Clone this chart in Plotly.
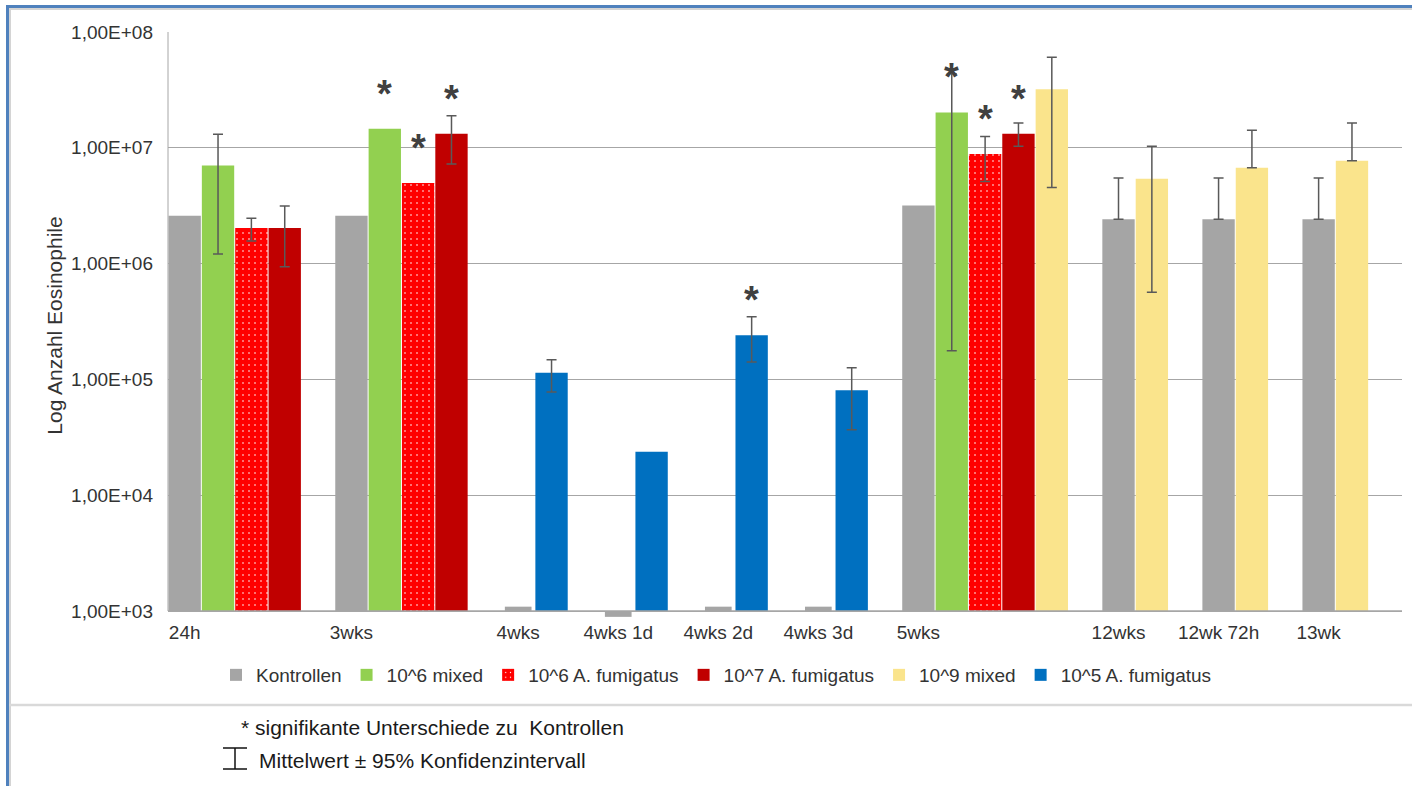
import math
import plotly.graph_objects as go

# ---------------------------------------------------------------------------
# Data: mean eosinophil counts per time point and group, with the limits of
# the 95 % confidence interval (None = group not measured / no interval)
# ---------------------------------------------------------------------------
groups = ["24h", "3wks", "4wks", "4wks 1d", "4wks 2d", "4wks 3d",
          "5wks", "12wks", "12wk 72h", "13wk"]

series_names = ["Kontrollen", "10^6 mixed", "10^6 A. fumigatus",
                "10^7 A. fumigatus", "10^9 mixed", "10^5 A. fumigatus"]

kontrollen = [2.59e6, 2.59e6, 1.09e3, 8.9e2, 1.09e3, 1.09e3, 3.18e6, 2.42e6, 2.42e6, 2.42e6]
kontrollen_hi = [None, None, None, None, None, None, None, 5.48e6, 5.48e6, 5.48e6]
kontrollen_lo = [None, None, None, None, None, None, None, 2.42e6, 2.42e6, 2.42e6]

mixed_6 = [7.03e6, 1.46e7, None, None, None, None, 2.02e7, None, None, None]
mixed_6_hi = [1.31e7, None, None, None, None, None, 4.37e7, None, None, None]
mixed_6_lo = [1.21e6, None, None, None, None, None, 1.77e5, None, None, None]

fumigatus_6 = [2.03e6, 4.96e6, None, None, None, None, 8.83e6, None, None, None]
fumigatus_6_hi = [2.47e6, None, None, None, None, None, 1.25e7, None, None, None]
fumigatus_6_lo = [1.57e6, None, None, None, None, None, 5.12e6, None, None, None]

fumigatus_7 = [2.03e6, 1.32e7, None, None, None, None, 1.32e7, None, None, None]
fumigatus_7_hi = [3.15e6, 1.89e7, None, None, None, None, 1.64e7, None, None, None]
fumigatus_7_lo = [9.4e5, 7.23e6, None, None, None, None, 1.03e7, None, None, None]

mixed_9 = [None, None, None, None, None, None, 3.21e7, 5.41e6, 6.73e6, 7.73e6]
mixed_9_hi = [None, None, None, None, None, None, 6.04e7, 1.03e7, 1.42e7, 1.64e7]
mixed_9_lo = [None, None, None, None, None, None, 4.54e6, 5.67e5, 6.73e6, 7.73e6]

fumigatus_5 = [None, None, 1.14e5, 2.37e4, 2.41e5, 8.07e4, None, None, None, None]
fumigatus_5_hi = [None, None, 1.48e5, None, 3.47e5, 1.26e5, None, None, None, None]
fumigatus_5_lo = [None, None, 7.8e4, None, 1.41e5, 3.68e4, None, None, None, None]

# time points with a significant difference to the controls
significant_mixed_6 = ["3wks", "5wks"]
significant_fumigatus_6 = ["3wks", "5wks"]
significant_fumigatus_7 = ["3wks", "5wks"]
significant_fumigatus_5 = ["4wks 2d"]

y_tick_values = [1e3, 1e4, 1e5, 1e6, 1e7, 1e8]
y_tick_labels = ["1,00E+03", "1,00E+04", "1,00E+05", "1,00E+06", "1,00E+07", "1,00E+08"]

# ---------------------------------------------------------------------------
# Styling
# ---------------------------------------------------------------------------
colors = ["#A5A5A5", "#92D050", "#FF0000", "#C00000", "#FAE48C", "#0070C0"]
FONT = "Liberation Sans, Arial, sans-serif"
TEXT = "#333333"
GRID = "#A6A6A6"
ERR = "#595959"
BASE = 1e3  # bars grow from the 1,00E+03 baseline (values below it hang down)

W, H = 1412, 786
L, R, T = 168, 10, 32
BASELINE_PX = 611                 # pixel row of the 1,00E+03 baseline
DECADE_PX = (BASELINE_PX - T) / 5  # height of one decade
BELOW_PX = 8                      # room under the baseline for values < 1e3
B = H - BASELINE_PX - BELOW_PX
PW, PH = W - L - R, H - T - B
y_bottom = math.log10(BASE) - BELOW_PX / DECADE_PX


def px_x(px):
    return (px - L) / PW


def px_y(py):
    return (H - B - py) / PH


series_values = [kontrollen, mixed_6, fumigatus_6, fumigatus_7, mixed_9, fumigatus_5]
series_hi = [kontrollen_hi, mixed_6_hi, fumigatus_6_hi, fumigatus_7_hi, mixed_9_hi, fumigatus_5_hi]
series_lo = [kontrollen_lo, mixed_6_lo, fumigatus_6_lo, fumigatus_7_lo, mixed_9_lo, fumigatus_5_lo]
series_sig = [[], significant_mixed_6, significant_fumigatus_6,
              significant_fumigatus_7, [], significant_fumigatus_5]

# Each measured bar gets its own slot; an empty slot separates time points.
positions = [[None] * len(groups) for _ in series_values]
group_start = []
slot = 0
for g in range(len(groups)):
    group_start.append(slot)
    for s, vals in enumerate(series_values):
        if vals[g] is not None:
            positions[s][g] = slot
            slot += 1
    slot += 1
n_slots = slot - 1

fig = go.Figure()
annotations = []
error_traces = []

for s, name in enumerate(series_names):
    xs, ys, widths = [], [], []
    ex, ey, plus, minus = [], [], [], []
    for g in range(len(groups)):
        v = series_values[s][g]
        if v is None:
            continue
        xs.append(positions[s][g])
        ys.append(v - BASE)
        widths.append(0.8 if v < 2 * BASE else 0.97)
        hi, lo = series_hi[s][g], series_lo[s][g]
        if hi is not None:
            ex.append(positions[s][g])
            ey.append(v)
            plus.append(hi - v)
            minus.append(v - lo)
        if groups[g] in series_sig[s]:
            annotations.append(dict(
                x=positions[s][g], y=math.log10(v), xref="x", yref="y",
                text="<b>*</b>", showarrow=False, yanchor="middle", yshift=35,
                font=dict(size=38, color="#404040", family=FONT)))

    marker = dict(color=colors[s], line=dict(width=0))
    if name == "10^6 A. fumigatus":
        marker["pattern"] = dict(shape=".", fgcolor="#FFFFFF", bgcolor=colors[s],
                                 size=6, solidity=0.06, fillmode="replace")
    fig.add_trace(go.Bar(name=name, x=xs, y=ys, base=BASE, width=widths,
                         marker=marker, legendgroup=name))
    if ex:
        error_traces.append(go.Scatter(
            x=ex, y=ey, mode="markers", showlegend=False, legendgroup=name,
            hoverinfo="skip",
            marker=dict(size=1, color="rgba(0,0,0,0)"),
            error_y=dict(type="data", symmetric=False, array=plus, arrayminus=minus,
                         color=ERR, thickness=1.5, width=5)))

for tr in error_traces:
    fig.add_trace(tr)

# Footnotes below the legend
annotations += [
    dict(x=px_x(239), y=px_y(727), xref="paper", yref="paper", xanchor="left",
         yanchor="middle", showarrow=False,
         text="* signifikante Unterschiede zu  Kontrollen",
         font=dict(size=21, color="#1A1A1A", family=FONT)),
    dict(x=px_x(257), y=px_y(760), xref="paper", yref="paper", xanchor="left",
         yanchor="middle", showarrow=False,
         text="Mittelwert ± 95% Konfidenzintervall",
         font=dict(size=21, color="#1A1A1A", family=FONT)),
]

line = dict(type="line", xref="paper", yref="paper")
shapes = [
    # axis lines: value axis and 1,00E+03 baseline
    dict(line, x0=0, x1=0, y0=px_y(BASELINE_PX), y1=1,
         line=dict(color=GRID, width=1)),
    dict(line, x0=0, x1=1, y0=px_y(BASELINE_PX), y1=px_y(BASELINE_PX),
         line=dict(color=GRID, width=1.5)),
    # outer frame (top and left edge)
    dict(line, x0=px_x(8), x1=px_x(W), y0=px_y(9), y1=px_y(9),
         line=dict(color="#D4D4D4", width=2)),
    dict(line, x0=px_x(8), x1=px_x(W), y0=px_y(6.5), y1=px_y(6.5),
         line=dict(color="#4F81BD", width=3)),
    dict(line, x0=px_x(10), x1=px_x(10), y0=px_y(8), y1=px_y(H),
         line=dict(color="#D4D4D4", width=2)),
    dict(line, x0=px_x(7.5), x1=px_x(7.5), y0=px_y(5), y1=px_y(H),
         line=dict(color="#4F81BD", width=3)),
    # separator above the footnotes
    dict(line, x0=px_x(9), x1=px_x(W), y0=px_y(705), y1=px_y(705),
         line=dict(color="#D9D9D9", width=2.5)),
    # error bar key symbol
    dict(line, x0=px_x(235), x1=px_x(235), y0=px_y(748), y1=px_y(769),
         line=dict(color="#111111", width=1.5)),
    dict(line, x0=px_x(223), x1=px_x(247), y0=px_y(748), y1=px_y(748),
         line=dict(color="#111111", width=1.5)),
    dict(line, x0=px_x(223), x1=px_x(247), y0=px_y(769), y1=px_y(769),
         line=dict(color="#111111", width=1.5)),
]

fig.update_layout(
    width=W, height=H,
    margin=dict(l=L, r=R, t=T, b=B, pad=0),
    paper_bgcolor="white", plot_bgcolor="white",
    font=dict(family=FONT, size=19, color=TEXT),
    barmode="overlay", showlegend=True,
    legend=dict(orientation="h", x=px_x(216), xanchor="left",
                y=px_y(675), yanchor="middle",
                font=dict(size=19, color=TEXT), bgcolor="rgba(0,0,0,0)",
                traceorder="normal"),
    xaxis=dict(range=[-0.5, n_slots + 0.5], tickmode="array",
               tickvals=group_start, ticktext=groups, showgrid=False,
               zeroline=False, showline=False,
               ticks="", ticklabelstandoff=0,
               tickfont=dict(size=19, color=TEXT)),
    yaxis=dict(type="log", range=[y_bottom, 8], tickmode="array",
               tickvals=y_tick_values, ticktext=y_tick_labels,
               showgrid=True, gridcolor=GRID, gridwidth=1,
               showline=False, ticks="", ticklabelstandoff=14, zeroline=False,
               tickfont=dict(size=19, color=TEXT),
               title=dict(text="Log Anzahl Eosinophile", standoff=2,
                          font=dict(size=21, color=TEXT))),
    annotations=annotations,
    shapes=shapes,
)

fig.write_html("out.html")
